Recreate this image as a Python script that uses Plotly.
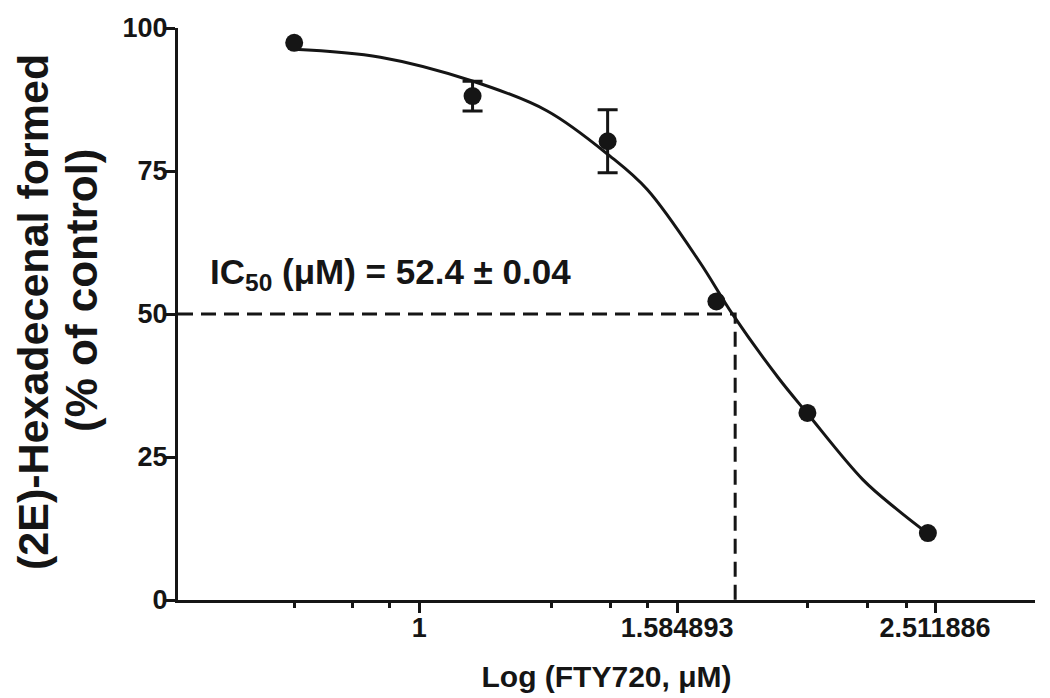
import plotly.graph_objects as go

# Data
conc = [0.8, 1.1, 1.4, 1.7, 2.0, 2.48]
response = [97.4, 88.1, 80.2, 52.2, 32.7, 11.7]
sem = [None, 2.6, 5.5, None, None, None]

# fitted curve
curve_x = [0.800, 0.933, 1.101, 1.257, 1.406, 1.502, 1.651, 1.748, 1.898, 2.000, 2.209, 2.348, 2.477]
curve_y = [96.3, 94.9, 90.7, 85.5, 77.6, 71.8, 59.0, 50.1, 38.9, 32.6, 21.0, 15.8, 11.7]

ic50_x = 1.758
half_level = 50

x_ticks = [1, 1.584893, 2.511886]
x_ticktext = ["1", "1.584893", "2.511886"]
x_minor = [0.8, 0.887, 0.949, 1.266, 1.406, 1.504, 2.0, 2.225, 2.385]
y_ticks = [0, 25, 50, 75, 100]

x_range_log = [-0.187, 0.4775]
black = "#151515"
font_family = "Liberation Sans, Arial, sans-serif"

fig = go.Figure()

# dashed IC50 guide lines
fig.add_trace(go.Scatter(
    x=[10 ** x_range_log[0], ic50_x, ic50_x],
    y=[half_level, half_level, 0],
    mode="lines",
    line=dict(color=black, width=3, dash="15px,8px"),
    hoverinfo="skip",
))

# fitted curve
fig.add_trace(go.Scatter(
    x=curve_x, y=curve_y, mode="lines",
    line=dict(color=black, width=3, shape="spline", smoothing=1.0),
    hoverinfo="skip",
))

# error bars only where present
err_x = [c for c, s in zip(conc, sem) if s is not None]
err_y = [r for r, s in zip(response, sem) if s is not None]
err_v = [s for s in sem if s is not None]
fig.add_trace(go.Scatter(
    x=err_x, y=err_y, mode="markers",
    marker=dict(size=1, color=black),
    error_y=dict(type="data", array=err_v, visible=True, color=black, thickness=3, width=10),
))

# data points
fig.add_trace(go.Scatter(
    x=conc, y=response, mode="markers",
    marker=dict(size=18, color=black),
))

# the page body adds 8px, so margins are shifted by that
fig.update_layout(
    width=1050, height=698,
    margin=dict(l=170, r=23, t=20, b=106),
    plot_bgcolor="white", paper_bgcolor="white",
    showlegend=False,
    font=dict(family=font_family, color=black, size=27, weight="bold"),
)

fig.update_xaxes(
    type="log", range=x_range_log, automargin=False,
    showline=True, linewidth=3, linecolor=black,
    showgrid=False, zeroline=False,
    ticks="outside", ticklen=10, tickwidth=3, tickcolor=black,
    tickvals=x_ticks, ticktext=x_ticktext, ticklabelstandoff=-8,
    tickfont=dict(size=27, family=font_family, color=black, weight="bold"),
    minor=dict(tickvals=x_minor, ticks="outside", ticklen=5, tickwidth=3, tickcolor=black, showgrid=False),
    title=dict(text="Log (FTY720, μM)", font=dict(size=30, family=font_family, color=black, weight="bold"), standoff=24),
)

fig.update_yaxes(
    range=[0, 100], automargin=False,
    showline=True, linewidth=3, linecolor=black,
    showgrid=False, zeroline=False,
    ticks="outside", ticklen=10, tickwidth=3, tickcolor=black,
    tickvals=y_ticks, ticklabelstandoff=-8,
    tickfont=dict(size=27, family=font_family, color=black, weight="bold"),
)

# y axis title in two lines
fig.add_annotation(
    text="(2E)-Hexadecenal formed", textangle=-90,
    xref="paper", yref="paper", x=0, y=0.5, xanchor="center", yanchor="middle",
    xshift=-145, yshift=2, showarrow=False,
    font=dict(size=43, family=font_family, color=black, weight="bold"),
)
fig.add_annotation(
    text="(% of control)", textangle=-90,
    xref="paper", yref="paper", x=0, y=0.5, xanchor="center", yanchor="middle",
    xshift=-97, yshift=24, showarrow=False,
    font=dict(size=44, family=font_family, color=black, weight="bold"),
)

# IC50 label
fig.add_annotation(
    text="IC<sub>50</sub> (μM) = 52.4 ± 0.04",
    xref="paper", yref="y", x=0.035, y=57, xanchor="left", yanchor="middle",
    showarrow=False,
    font=dict(size=35, family=font_family, color=black, weight="bold"),
)

fig.write_html("out.html")
